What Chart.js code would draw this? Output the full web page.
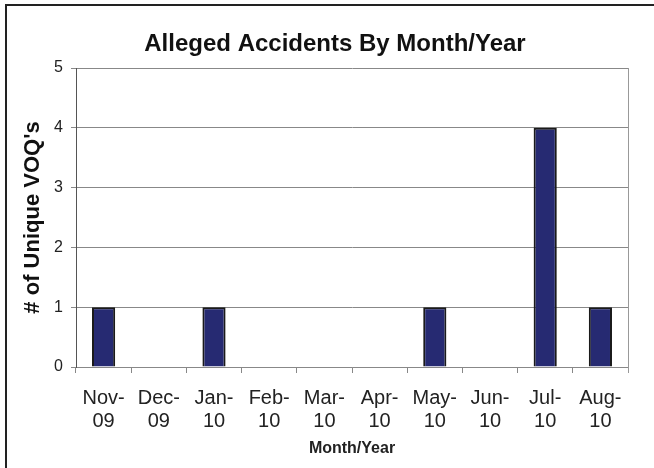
<!DOCTYPE html>
<html>
<head>
<meta charset="utf-8">
<script src="https://cdn.jsdelivr.net/npm/chart.js@4/dist/chart.umd.min.js"></script>
<style>
  html, body { margin: 0; padding: 0; background: #fff; }
  #wrap { width: 654px; height: 468px; position: relative; }
</style>
</head>
<body>
<div id="wrap"><canvas id="accidentChart" width="654" height="468"></canvas></div>
<script>
// data
const months = ["Nov", "Dec", "Jan", "Feb", "Mar", "Apr", "May", "Jun", "Jul", "Aug"];
const years = ["09", "09", "10", "10", "10", "10", "10", "10", "10", "10"];
const accidents = [1, 0, 1, 0, 0, 0, 1, 0, 4, 1];
const yTicks = [0, 1, 2, 3, 4, 5];
const chartTitle = "Alleged Accidents By Month/Year";

const labels = months.map((m, i) => [m + "-", years[i]]);
const FONT = "Arial, 'Liberation Sans', sans-serif";

// outer frame (only left and top edges are visible), title, right border of plot area
const framePlugin = {
    id: "frame",
    afterDraw(chart) {
        const ctx = chart.ctx;
        const area = chart.chartArea;
        ctx.save();
        ctx.strokeStyle = "#222";
        ctx.lineWidth = 2;
        ctx.beginPath();
        ctx.moveTo(6, 468);
        ctx.lineTo(6, 5);
        ctx.lineTo(654, 5);
        ctx.stroke();

        ctx.strokeStyle = "#999";
        ctx.lineWidth = 1;
        ctx.beginPath();
        ctx.moveTo(Math.round(area.right) + 0.5, area.top);
        ctx.lineTo(Math.round(area.right) + 0.5, area.bottom + 6);
        ctx.stroke();

        // title centred on the whole frame, not the plot area
        ctx.fillStyle = "#111";
        ctx.font = "bold 24px " + FONT;
        ctx.textAlign = "center";
        ctx.textBaseline = "middle";
        ctx.fillText(chartTitle, 335, 44);
        ctx.restore();
    }
};

new Chart(document.getElementById("accidentChart"), {
    type: "bar",
    data: {
        labels: labels,
        datasets: [{
            data: accidents,
            backgroundColor: "#262a72",
            borderColor: "#1a1a1a",
            borderWidth: 2,
            categoryPercentage: 1,
            barPercentage: 0.42
        }]
    },
    options: {
        responsive: false,
        animation: false,
        layout: {
            padding: { left: 0, right: 26, top: 68, bottom: 0 }
        },
        plugins: {
            legend: { display: false },
            tooltip: { enabled: false },
            title: { display: false }
        },
        scales: {
            x: {
                afterFit(scale) { scale.height = 101; },
                grid: {
                    offset: true,
                    drawOnChartArea: false,
                    color: "#888",
                    tickLength: 6
                },
                border: { color: "#888" },
                ticks: {
                    color: "#222",
                    maxRotation: 0,
                    autoSkip: false,
                    padding: 14,
                    font: { family: FONT, size: 20, lineHeight: 1.15 }
                },
                title: {
                    display: true,
                    text: "Month/Year",
                    color: "#222",
                    font: { family: FONT, size: 16, weight: "bold", lineHeight: 1.2 },
                    padding: { top: 0, bottom: 9.4 }
                }
            },
            y: {
                min: 0,
                max: 5,
                afterFit(scale) { scale.width = 76; },
                afterBuildTicks(scale) {
                    scale.ticks = yTicks.map(v => ({ value: v }));
                },
                grid: {
                    color: "#888",
                    tickLength: 5
                },
                border: { color: "#555" },
                ticks: {
                    color: "#222",
                    padding: 8,
                    font: { family: FONT, size: 16 }
                },
                title: {
                    display: true,
                    text: "# of Unique VOQ's",
                    color: "#111",
                    font: { family: FONT, size: 22, weight: "bold", lineHeight: 1.2 },
                    padding: { top: 20, bottom: 0 }
                }
            }
        }
    },
    plugins: [framePlugin]
});
</script>
</body>
</html>
